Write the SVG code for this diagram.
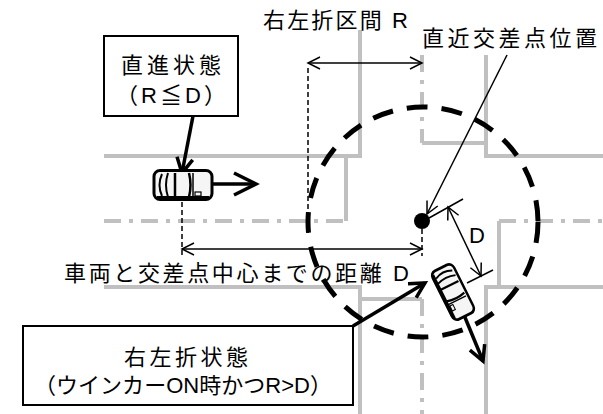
<svg xmlns="http://www.w3.org/2000/svg" width="603" height="414" viewBox="0 0 603 414">
  <style>
    .road{stroke:#c0c0c0;stroke-width:4;fill:none}
    .cl{stroke-dasharray:17 8 4 8}
    .thin{stroke:#000;stroke-width:1.5;fill:none}
    .guide{stroke:#000;stroke-width:1.5;stroke-dasharray:5 3;fill:none}
    .thick{stroke:#000;stroke-width:3.5;fill:none}
    .box{fill:#fff;stroke:#000;stroke-width:2}
    text{font-family:"Liberation Sans","Noto Sans CJK JP","Noto Sans CJK SC",sans-serif;font-size:22px;fill:#000}
  </style>
  <defs>
    <marker id="hThin" viewBox="-14 -8 16 16" refX="0" refY="0" markerWidth="16" markerHeight="16" markerUnits="userSpaceOnUse" orient="auto-start-reverse" overflow="visible">
      <path d="M-12,-6 L0,0 L-12,6" fill="none" stroke="#000" stroke-width="1.5"/>
    </marker>
    <marker id="hThick" viewBox="-20 -12 24 24" refX="0" refY="0" markerWidth="24" markerHeight="24" markerUnits="userSpaceOnUse" orient="auto" overflow="visible">
      <path d="M-15,-8 L0,0 L-15,8" fill="none" stroke="#000" stroke-width="3.5"/>
    </marker>
    <marker id="hBig" viewBox="-26 -14 30 28" refX="0" refY="0" markerWidth="30" markerHeight="28" markerUnits="userSpaceOnUse" orient="auto" overflow="visible">
      <path d="M-22,-11 L0,0 L-22,11" fill="none" stroke="#000" stroke-width="3.5"/>
    </marker>
    <!-- top view of a car, nose pointing to +x -->
    <g id="car">
      <rect x="-29" y="-14.5" width="58" height="29" rx="6" fill="#f5f5f5" stroke="#000" stroke-width="3"/>
      <path d="M-26,12.5 H26" stroke="#000" stroke-width="3"/>
      <path d="M-21,-11 Q-26,0 -21,11" fill="none" stroke="#000" stroke-width="2"/>
      <path d="M-15,-12 Q-19,0 -15,12" fill="none" stroke="#000" stroke-width="2"/>
      <path d="M-8,-12 V12" stroke="#000" stroke-width="2.5"/>
      <path d="M6,-12 Q9,0 6,12" fill="none" stroke="#000" stroke-width="2.5"/>
      <path d="M10,-12 V12" stroke="#000" stroke-width="1.5"/>
      <rect x="12" y="7" width="6" height="4" fill="none" stroke="#000" stroke-width="1.2"/>
    </g>
  </defs>

  <!-- roads -->
  <g id="roads">
    <path class="road" d="M104,156 H360 V30"/>
    <path class="road" d="M486,55 V156 H603"/>
    <path class="road" d="M422,143 H486"/>
    <path class="road cl" d="M422,55 V143"/>
    <path class="road" d="M346,158 V221"/>
    <path class="road cl" d="M104,221 H346"/>
    <path class="road" d="M104,287 H360 V414"/>
    <path class="road" d="M362,299 H422"/>
    <path class="road cl" d="M422,299 V414"/>
    <path class="road" d="M603,287 H486 V414"/>
    <path class="road" d="M499,221 V287"/>
    <path class="road cl" d="M499,221 H603"/>
  </g>

  <!-- turning range around the intersection -->
  <circle id="range" cx="423" cy="222" r="115" fill="none" stroke="#000" stroke-width="5" stroke-dasharray="21 14"/>

  <g id="connectors">
    <line class="guide" x1="308" y1="68" x2="308" y2="235"/>
    <line class="guide" x1="182" y1="202" x2="182" y2="258"/>
    <line class="guide" x1="422" y1="229" x2="422" y2="256"/>
    <line class="thin" x1="308" y1="63" x2="422" y2="63" marker-start="url(#hThin)" marker-end="url(#hThin)"/>
    <line class="thin" x1="182" y1="249" x2="422" y2="249" marker-start="url(#hThin)" marker-end="url(#hThin)"/>
    <line class="thin" x1="507" y1="55" x2="427" y2="214" marker-end="url(#hThin)"/>
    <line class="thin" x1="429" y1="218" x2="463" y2="199"/>
    <line class="thin" x1="467" y1="283" x2="493" y2="270"/>
    <line class="thin" x1="448" y1="207" x2="481" y2="276" marker-start="url(#hThin)" marker-end="url(#hThin)"/>
    <line class="thick" x1="193" y1="116" x2="182" y2="173" marker-end="url(#hThick)"/>
    <line class="thick" x1="353" y1="326" x2="425" y2="283" marker-end="url(#hThick)"/>
    <line class="thick" x1="213" y1="184" x2="256" y2="184" marker-end="url(#hBig)"/>
    <line class="thick" x1="464" y1="315" x2="483" y2="361" marker-end="url(#hThick)"/>
  </g>

  <circle id="intersection" cx="422" cy="221" r="8" fill="#000"/>

  <g id="car-straight">
    <use href="#car" transform="translate(183,185)"/>
  </g>
  <g id="car-turning">
    <use href="#car" transform="translate(453,292) rotate(63.4) scale(0.93,0.82)"/>
  </g>

  <g id="state-straight">
    <rect class="box" x="104" y="36" width="134" height="80"/>
    <text x="171" y="73" text-anchor="middle" textLength="100" lengthAdjust="spacing">直進状態</text>
    <text x="171" y="103" text-anchor="middle" textLength="110" lengthAdjust="spacing">（R≦D）</text>
  </g>

  <g id="state-turning">
    <rect class="box" x="23" y="326" width="330" height="79"/>
    <text x="186" y="365" text-anchor="middle" textLength="124" lengthAdjust="spacing">右左折状態</text>
    <text x="183" y="393" text-anchor="middle" textLength="298" lengthAdjust="spacing">（ウインカーON時かつR&gt;D）</text>
  </g>

  <g id="labels">
    <text x="263" y="28" textLength="145" lengthAdjust="spacing">右左折区間 R</text>
    <text x="422" y="46" textLength="175" lengthAdjust="spacing">直近交差点位置</text>
    <text x="64" y="281" textLength="345" lengthAdjust="spacing">車両と交差点中心までの距離 D</text>
    <text x="469" y="243">D</text>
  </g>
</svg>
